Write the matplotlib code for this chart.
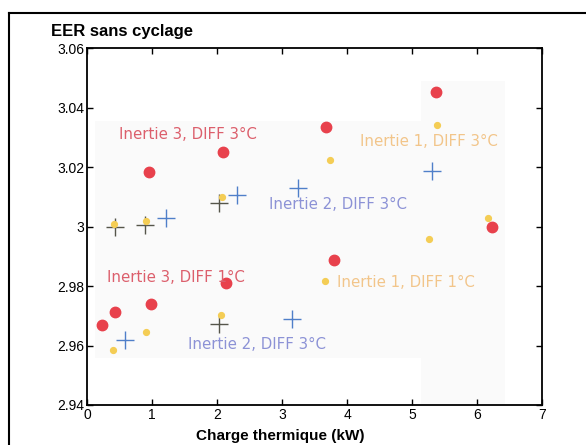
import matplotlib.pyplot as plt
from matplotlib.patches import Polygon
from matplotlib.lines import Line2D

# Inertie 3 (points rouges)
x_rouge = [0.23, 0.43, 0.975, 0.95, 2.09, 2.14, 3.67, 3.80, 5.36, 6.23]
y_rouge = [2.9668, 2.9714, 2.9740, 3.0182, 3.0249, 2.9810, 3.0334, 2.9888, 3.0453, 3.0000]

# Inertie 2 (croix bleues)
x_bleu = [1.21, 2.31, 3.25, 5.31, 0.58, 3.15]
y_bleu = [3.0028, 3.0107, 3.0129, 3.0188, 2.9619, 2.9690]

# Inertie 1 (points jaunes)
x_jaune = [0.41, 0.90, 2.08, 3.73, 5.38, 0.40, 0.90, 2.06, 3.66, 5.26, 6.17]
y_jaune = [3.0008, 3.0020, 3.0100, 3.0224, 3.0341, 2.9586, 2.9644, 2.9703, 2.9817, 2.9959, 3.0028]

# croix sombres superposees
x_sombre = [0.43, 0.89, 2.03, 2.02]
y_sombre = [3.0000, 3.0006, 3.0080, 2.9672]

etiquettes = ["Inertie 3, DIFF 3°C", "Inertie 2, DIFF 3°C", "Inertie 1, DIFF 3°C",
              "Inertie 3, DIFF 1°C", "Inertie 2, DIFF 3°C", "Inertie 1, DIFF 1°C"]
x_etiq = [0.49, 2.80, 4.19, 0.30, 1.55, 3.85]
y_etiq = [3.0310, 3.0073, 3.0285, 2.9828, 2.9605, 2.9813]
coul_etiq = ["#dc5f6c", "#8c92d6", "#f2c58a", "#dc5f6c", "#8c92d6", "#f2c58a"]

xticks = [0, 1, 2, 3, 4, 5, 6, 7]
yticks = [2.94, 2.96, 2.98, 3.00, 3.02, 3.04, 3.06]
ytick_labels = ["2.94", "2.96", "2.98", "3", "3.02", "3.04", "3.06"]

plt.rcParams['font.family'] = ['Liberation Sans', 'DejaVu Sans']

fig = plt.figure(figsize=(5.86, 4.45), dpi=100)
ax = fig.add_axes([0.149, 0.0899, 0.776, 0.802])

# fond legerement gris de l'image collee
fond = Polygon([(0.017, 0.795), (0.733, 0.795), (0.733, 0.907), (0.918, 0.907),
                (0.918, 0.0), (0.733, 0.0), (0.733, 0.133), (0.017, 0.133)],
               closed=True, transform=ax.transAxes, facecolor="#fafafa",
               edgecolor="none", zorder=0)
ax.add_patch(fond)

ax.plot(x_sombre, y_sombre, linestyle="none", marker="+", markersize=13,
        markeredgewidth=1.0, color="#55554a", zorder=2)
ax.plot(x_jaune, y_jaune, linestyle="none", marker="o", markersize=4.2,
        color="#f4cd55", zorder=3)
ax.plot(x_bleu, y_bleu, linestyle="none", marker="+", markersize=13,
        markeredgewidth=1.0, color="#4f7fc9", zorder=3)
ax.plot(x_rouge, y_rouge, linestyle="none", marker="o", markersize=7.5,
        color="#e8414c", zorder=4)

for t, xe, ye, c in zip(etiquettes, x_etiq, y_etiq, coul_etiq):
    ax.text(xe, ye, t, color=c, fontsize=10.8, family="DejaVu Sans",
            va="center", ha="left", zorder=5)

ax.set_xlim(0, 7)
ax.set_ylim(2.94, 3.06)
ax.set_xticks(xticks)
ax.set_yticks(yticks)
ax.set_yticklabels(ytick_labels)
ax.tick_params(direction="in", top=True, right=True, length=4, width=1,
               labelsize=10, pad=2)
for s in ax.spines.values():
    s.set_linewidth(1.3)

ax.set_xlabel("Charge thermique (kW)", fontsize=11, fontweight="bold", labelpad=1)
ax.xaxis.set_label_coords(0.424, -0.066)
fig.text(0.087, 0.93, "EER sans cyclage", fontsize=12, fontweight="bold",
         ha="left", va="center")

# cadre exterieur
fig.add_artist(Line2D([0.016, 0.016], [0.0, 0.97], transform=fig.transFigure,
                      color="black", linewidth=1.5))
fig.add_artist(Line2D([0.016, 1.0], [0.97, 0.97], transform=fig.transFigure,
                      color="black", linewidth=1.5))

fig.savefig("out.png", dpi=100)
